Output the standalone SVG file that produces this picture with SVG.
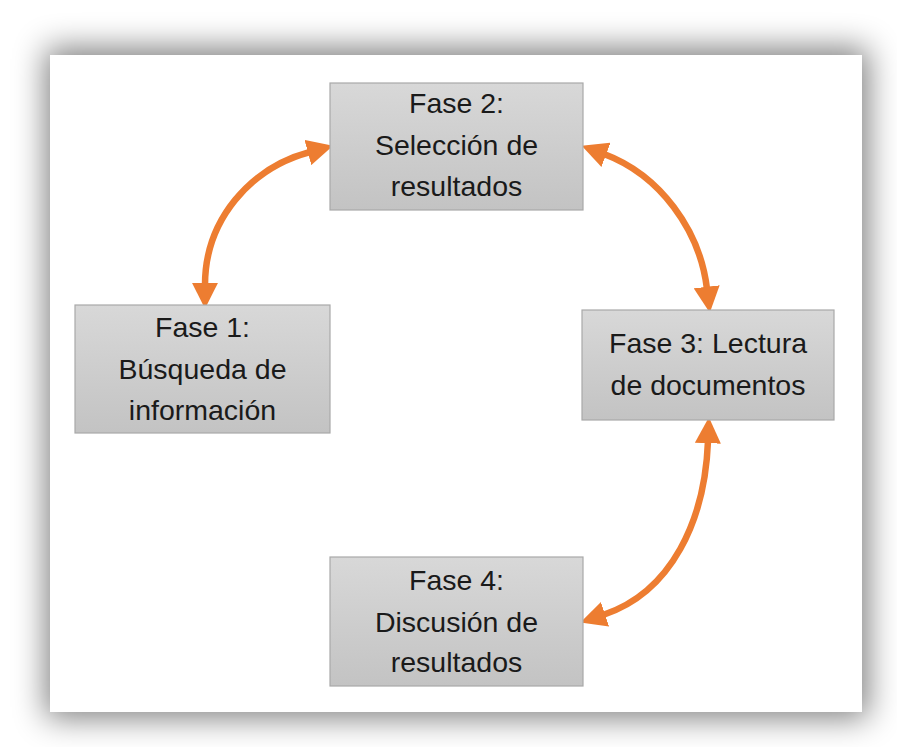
<svg xmlns="http://www.w3.org/2000/svg" width="897" height="747" viewBox="0 0 897 747">
<defs>
<style>
.box{fill:url(#g);stroke:#a9a9a9;stroke-width:1.2}
.t{font-family:"Liberation Sans",Arial,sans-serif;font-size:28.5px;fill:#1a1a1a;text-anchor:middle}
.c{fill:none;stroke:#ED7D31;stroke-width:6.5;marker-start:url(#ah);marker-end:url(#ah)}
</style>
<linearGradient id="g" x1="0" y1="0" x2="0" y2="1">
<stop offset="0" stop-color="#d8d8d8"/>
<stop offset="1" stop-color="#c3c3c3"/>
</linearGradient>
<filter id="sh" x="-10%" y="-10%" width="120%" height="120%">
<feGaussianBlur stdDeviation="16"/>
</filter>
<marker id="ah" markerUnits="userSpaceOnUse" markerWidth="26" markerHeight="26" refX="2" refY="12" orient="auto-start-reverse" viewBox="0 0 24 24">
<path d="M0,0 L24,12 L0,24 z" fill="#ED7D31"/>
</marker>
</defs>
<rect width="897" height="747" fill="#ffffff"/>
<rect x="46" y="48" width="822" height="670" fill="#000" opacity="0.5" filter="url(#sh)"/>
<rect x="50" y="55" width="812" height="657" fill="#ffffff"/>
<g id="connectors">
<path class="c" d="M 205 285 C 205 220, 250 168, 310 152"/>
<path class="c" d="M 604 154 C 660 175, 700 230, 707 289"/>
<path class="c" d="M 708 441 C 705 520, 672 592, 603 615"/>
</g>
<g id="fase2">
<rect class="box" x="330" y="83" width="253" height="127"/>
<text class="t" x="456.5" y="113">Fase 2:</text>
<text class="t" x="456.5" y="155">Selección de</text>
<text class="t" x="456.5" y="196">resultados</text>
</g>
<g id="fase1">
<rect class="box" x="75" y="305" width="255" height="128"/>
<text class="t" x="202.5" y="337">Fase 1:</text>
<text class="t" x="202.5" y="379">Búsqueda de</text>
<text class="t" x="202.5" y="420">información</text>
</g>
<g id="fase3">
<rect class="box" x="582" y="310" width="252" height="110"/>
<text class="t" x="708" y="353">Fase 3: Lectura</text>
<text class="t" x="708" y="395">de documentos</text>
</g>
<g id="fase4">
<rect class="box" x="330" y="557" width="253" height="129"/>
<text class="t" x="456.5" y="590">Fase 4:</text>
<text class="t" x="456.5" y="632">Discusión de</text>
<text class="t" x="456.5" y="672">resultados</text>
</g>
</svg>
